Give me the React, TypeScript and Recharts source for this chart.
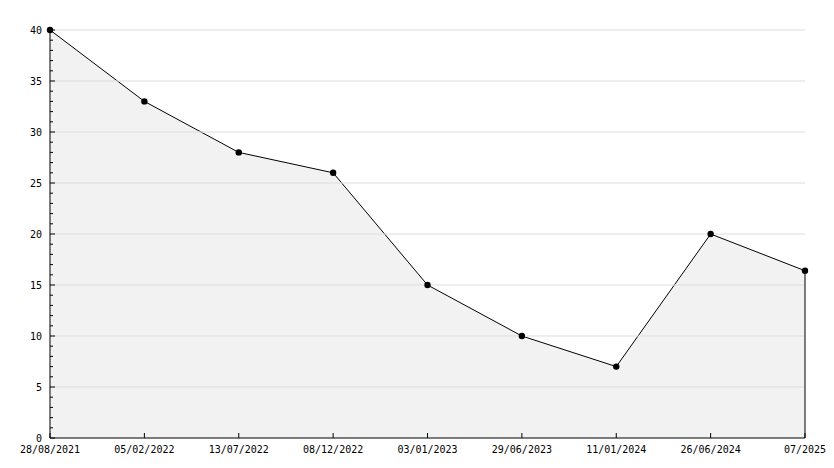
import React from "react";
import { AreaChart, Area, XAxis, YAxis, ReferenceLine } from "recharts";

const categories = [
  "28/08/2021",
  "05/02/2022",
  "13/07/2022",
  "08/12/2022",
  "03/01/2023",
  "29/06/2023",
  "11/01/2024",
  "26/06/2024",
  "07/2025",
];
const values = [40, 33, 28, 26, 15, 10, 7, 20, 16.4];
const gridValues = [5, 10, 15, 20, 25, 30, 35, 40];
const yTicks = Array.from({ length: 41 }, (_, i) => i);

const data = categories.map((c, i) => ({ date: c, value: values[i] }));

const FONT = "'DejaVu Sans Mono', monospace";

const YTick = (props: any) => {
  const { x, y, payload } = props;
  const v = payload.value;
  const major = v % 5 === 0;
  return (
    <g>
      <line x1={x} x2={x + (major ? 5 : 3)} y1={y} y2={y} stroke="#000" strokeWidth={1} />
      {major && (
        <text x={x - 8} y={y} textAnchor="end" dominantBaseline="central" fontFamily={FONT} fontSize={10} fill="#000">
          {v}
        </text>
      )}
    </g>
  );
};

const XTick = (props: any) => {
  const { x, y, payload } = props;
  return (
    <g>
      <line x1={x} x2={x} y1={y} y2={y - 5} stroke="#000" strokeWidth={1} />
      <text x={x} y={y + 15} textAnchor="middle" fontFamily={FONT} fontSize={10} fill="#000">
        {payload.value}
      </text>
    </g>
  );
};

const Dot = (props: any) => {
  const { cx, cy } = props;
  if (cx == null || cy == null) return null;
  return <circle cx={cx} cy={cy} r={3.2} fill="#000" stroke="none" />;
};

export default function App() {
  const last = data[data.length - 1];
  return (
    <div style={{ position: "absolute", left: 0, top: 0, width: 834, height: 468, background: "#fff" }}>
      <AreaChart width={834} height={468} data={data} margin={{ top: 30, right: 29, left: 0, bottom: 0 }}>
        {gridValues.map((g) => (
          <ReferenceLine key={g} y={g} stroke="#dddddd" strokeWidth={1} ifOverflow="extendDomain" />
        ))}
        <Area
          type="linear"
          dataKey="value"
          stroke="#000"
          strokeWidth={1}
          fill="#f2f2f2"
          fillOpacity={1}
          dot={<Dot />}
          activeDot={false}
          isAnimationActive={false}
        />
        <ReferenceLine
          segment={[
            { x: last.date, y: 0 },
            { x: last.date, y: last.value },
          ]}
          stroke="#000"
          strokeWidth={1}
        />
        <XAxis
          dataKey="date"
          interval={0}
          tickSize={0}
          tickMargin={0}
          tickLine={false}
          tick={<XTick />}
          axisLine={{ stroke: "#000", strokeWidth: 1 }}
          height={30}
        />
        <YAxis
          domain={[0, 40]}
          ticks={yTicks}
          interval={0}
          tickSize={0}
          tickMargin={0}
          tickLine={false}
          tick={<YTick />}
          axisLine={{ stroke: "#000", strokeWidth: 1 }}
          width={50}
        />
      </AreaChart>
    </div>
  );
}
